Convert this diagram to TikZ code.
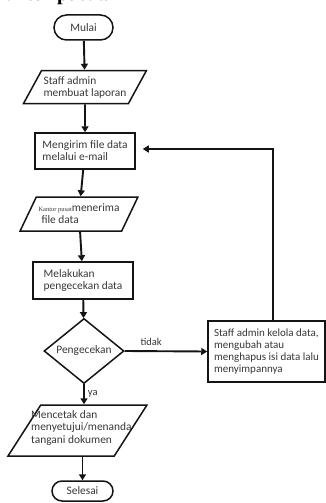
\documentclass[tikz,border=0pt]{standalone}
\usepackage{fontspec}
\setmainfont{Carlito}
\newfontfamily\headserif{Liberation Serif}
\usetikzlibrary{shapes.geometric,shapes.misc,arrows.meta}

\definecolor{inktext}{RGB}{55,55,55}
\definecolor{inkline}{RGB}{20,20,20}

\tikzset{
  base/.style={draw=inkline, line width=1.5pt, text=inktext, inner sep=2pt,
               font=\fontsize{11.4}{12}\selectfont},
  terminal/.style={base, rounded rectangle},
  procbox/.style={base, rectangle, align=left},
  iobox/.style={base, trapezium, trapezium stretches=true, align=left},
  decision/.style={base, diamond, inner sep=0pt},
  flow/.style={draw=inkline, line width=1.9pt, -{Triangle[length=6pt,width=7pt]}},
  lbl/.style={text=inktext, font=\fontsize{10.5}{11}\selectfont, inner sep=0pt}
}

\begin{document}
\begin{tikzpicture}[x=1pt,y=-1pt]
  \useasboundingbox (0,0) rectangle (326,503);
  \clip (0,0) rectangle (326,503);

  % heading line running off the top of the page
  \node[anchor=base east, inner sep=0pt, text=black,
        font=\headserif\bfseries\fontsize{20}{22}\selectfont] (head) at (109,1) {kantor pusat.};

  % main column
  \node[terminal, minimum width=63pt, minimum height=25pt] (mulai) at (83.5,27.5) {Mulai};

  \node[iobox, trapezium left angle=55, trapezium right angle=125,
        minimum width=120pt, minimum height=33pt] (lapor) at (85,87)
        {Staff admin\\membuat laporan};

  \node[procbox, minimum width=100pt, minimum height=36pt] (kirim) at (85,151)
        {Mengirim file data\\melalui e-mail};

  \node[iobox, trapezium left angle=56, trapezium right angle=124,
        minimum width=118pt, minimum height=34pt] (terima) at (79,214)
        {{\headserif\fontsize{6.5}{7}\selectfont Kantor pusat}menerima\\\hspace*{3pt}file data};

  \node[procbox, minimum width=100pt, minimum height=37pt] (cek) at (83,280.5)
        {Melakukan\\pengecekan data};

  \node[decision, minimum width=80pt, minimum height=52pt] (keputusan) at (84,351)
        {Pengecekan};

  \node[procbox, minimum width=117pt, minimum height=61pt, inner sep=1pt,
        font=\fontsize{11}{12}\selectfont] (kelola) at (266.5,351.5)
        {Staff admin kelola data,\\mengubah atau\\menghapus isi data lalu\\menyimpannya};

  \node[iobox, trapezium left angle=66, trapezium right angle=114,
        minimum width=139pt, minimum height=51pt] (cetak) at (77.5,430.5) {};
  \node[lbl, font=\fontsize{11.4}{12.5}\selectfont, align=left, anchor=west] (cetaktxt) at (31,428)
        {Mencetak dan\\menyetujui/menanda\\tangani dokumen};

  \node[terminal, minimum width=65pt, minimum height=20pt] (selesai) at (82.5,491) {Selesai};

  % loop-back corner
  \coordinate (balik) at (273,149);

  % connectors
  \draw[flow] (mulai) -- (lapor);
  \draw[flow] (lapor) -- (kirim);
  \draw[flow] (kirim) -- (terima);
  \draw[flow] (terima) -- (cek);
  \draw[flow] (cek) -- (keputusan);
  \draw[flow] (keputusan.east) -- node[lbl, pos=0.32, above=5pt] (tidak) {tidak} (kelola.west);
  \draw[flow] (keputusan.south) -- node[lbl, right=3pt] (ya) {ya} (cetak.north -| keputusan.south);
  \draw[flow] (cetak.south -| selesai.north) -- (selesai.north);
  \draw[flow, shorten >=7pt] (kelola.north -| balik) -- (balik) -- (balik -| kirim.east);
\end{tikzpicture}
\end{document}
